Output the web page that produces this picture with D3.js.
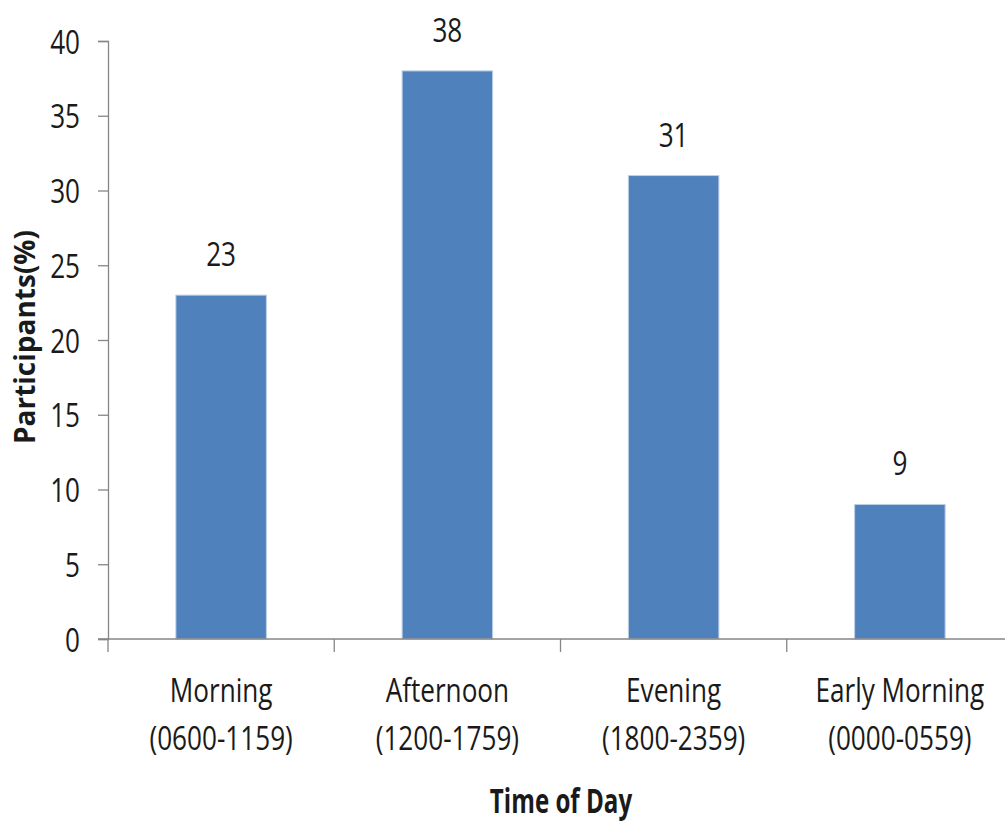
<!DOCTYPE html>
<html><head><meta charset="utf-8">
<script src="https://cdn.jsdelivr.net/npm/d3@7"></script>
<style>
body{margin:0;background:#fff;}
text{font-family:"Open Sans",sans-serif;fill:#1a1a1a;}
</style></head><body>
<svg id="c" width="1005" height="822"></svg>
<script>
const categories = ["Morning|(0600-1159)","Afternoon|(1200-1759)","Evening|(1800-2359)","Early Morning|(0000-0559)"];
const values = [23, 38, 31, 9];
const yTicks = [0,5,10,15,20,25,30,35,40];

const svg = d3.select("#c");
const x0 = 108, x1 = 1013, yTop = 41, yBot = 639;
const x = d3.scaleBand().domain(categories).range([x0, x1]).padding(0);
const y = d3.scaleLinear().domain([0,40]).range([yBot, yTop]);
const axisColor = "#868686";
const SX = 0.78;

// y axis
const ya = svg.append("g").attr("transform",`translate(${x0},0)`)
  .call(d3.axisLeft(y).tickValues(yTicks).tickSize(10).tickPadding(0));
ya.select(".domain").attr("stroke",axisColor).attr("stroke-width",1.3);
ya.selectAll(".tick line").attr("stroke",axisColor).attr("stroke-width",1.3);
ya.selectAll(".tick text").style("font-size","33.5px").attr("x",null).attr("dy","0.36em")
  .attr("text-anchor","end").attr("transform",`translate(-28,0) scale(${SX},1)`);

// bars
const bw = x.bandwidth()*0.4;
svg.selectAll("rect.bar").data(values).enter().append("rect")
  .attr("x",(d,i)=>x(categories[i])+x.bandwidth()/2-bw/2)
  .attr("y",d=>y(d)).attr("width",bw).attr("height",d=>yBot-y(d))
  .attr("fill","#4F81BD").attr("stroke","#BCCFE6").attr("stroke-width",1);

// value labels
svg.selectAll("text.val").data(values).enter().append("text")
  .attr("transform",(d,i)=>`translate(${x(categories[i])+x.bandwidth()/2},${y(d)-29}) scale(${SX},1)`)
  .attr("text-anchor","middle").style("font-size","33.5px").text(d=>d);

// x axis
const xa = svg.append("g").attr("transform",`translate(0,${yBot})`);
xa.append("line").attr("x1",x0-10).attr("x2",x1).attr("y1",0).attr("y2",0).attr("stroke",axisColor).attr("stroke-width",1.3);
const bounds = categories.map(c=>x(c)).concat([x1]);
xa.selectAll("line.t").data(bounds).enter().append("line")
  .attr("x1",d=>d).attr("x2",d=>d).attr("y1",0).attr("y2",13).attr("stroke",axisColor).attr("stroke-width",1.3);
const lab = xa.selectAll("text.cat").data(categories).enter().append("text")
  .attr("text-anchor","middle").style("font-size","33.5px")
  .attr("transform",c=>`translate(${x(c)+x.bandwidth()/2},0) scale(${SX},1)`);
lab.append("tspan").attr("x",0).attr("y",63).text(c=>c.split("|")[0]);
lab.append("tspan").attr("x",0).attr("y",111).text(c=>c.split("|")[1]);

// axis titles
svg.append("text").attr("transform","translate(561,813) scale(0.7,1)").attr("text-anchor","middle")
  .style("font-size","34.5px").style("font-weight","bold").text("Time of Day");
svg.append("text").attr("transform","translate(35,337) rotate(-90)").attr("text-anchor","middle")
  .style("font-size","28px").style("font-weight","bold").text("Participants(%)");
</script></body></html>
